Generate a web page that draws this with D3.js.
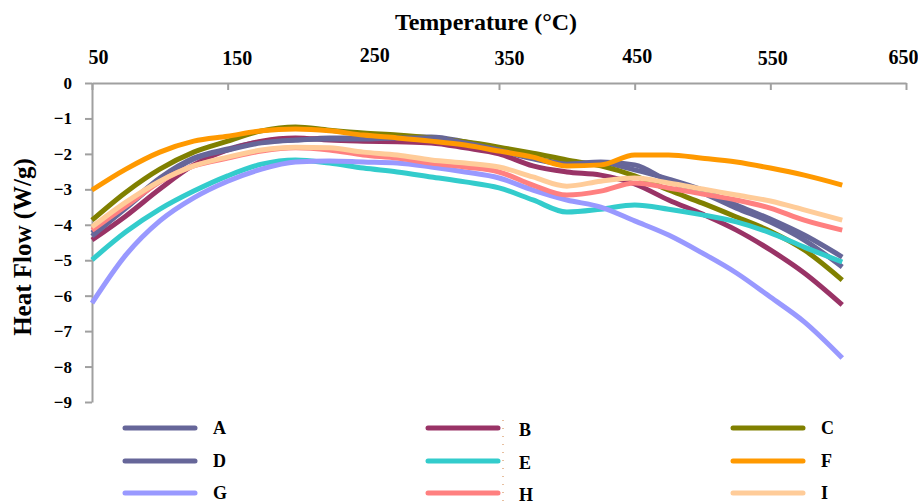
<!DOCTYPE html>
<html lang="en">
<head>
<meta charset="utf-8">
<style>
  body { margin: 0; background: #fff; }
  text { font-family: "Liberation Serif", "Times New Roman", serif; font-weight: bold; fill: #000; }
</style>
</head>
<body>
	<script src="https://d3js.org/d3.v7.min.js"></script>
	<script>
		width = 918;
		height = 504;

		// temperature grid (°C) that the curves were read at
		const temps = [50, 75, 100, 125, 150, 175, 200, 225, 250, 275, 300, 325, 350, 375, 400, 425, 450, 475, 500, 525, 550, 575, 603];

		const seriesA = [-4.23, -3.47, -2.68, -2.12, -1.86, -1.66, -1.61, -1.55, -1.55, -1.52, -1.52, -1.66, -1.86, -2.12, -2.26, -2.26, -2.45, -2.71, -3.02, -3.44, -3.84, -4.29, -4.91];
		const seriesB = [-4.43, -3.75, -2.99, -2.31, -1.89, -1.64, -1.55, -1.61, -1.64, -1.66, -1.69, -1.83, -2.00, -2.34, -2.51, -2.60, -2.85, -3.30, -3.70, -4.15, -4.71, -5.36, -6.26];
		const seriesC = [-3.87, -3.08, -2.43, -1.95, -1.64, -1.35, -1.24, -1.33, -1.41, -1.47, -1.55, -1.66, -1.81, -1.98, -2.17, -2.34, -2.62, -3.02, -3.39, -3.78, -4.18, -4.71, -5.56];
		const seriesD = [-4.32, -3.53, -2.74, -2.14, -1.89, -1.69, -1.61, -1.58, -1.58, -1.55, -1.55, -1.69, -1.89, -2.14, -2.29, -2.23, -2.31, -2.77, -3.10, -3.53, -3.92, -4.43, -5.19];
		const seriesE = [-4.99, -4.20, -3.56, -3.05, -2.62, -2.29, -2.17, -2.26, -2.40, -2.51, -2.65, -2.79, -2.96, -3.30, -3.64, -3.56, -3.44, -3.56, -3.72, -3.92, -4.23, -4.63, -5.05];
		const seriesF = [-3.02, -2.43, -1.95, -1.64, -1.50, -1.35, -1.30, -1.35, -1.47, -1.55, -1.64, -1.75, -1.92, -2.09, -2.34, -2.31, -2.03, -2.03, -2.12, -2.23, -2.40, -2.60, -2.88];
		const seriesG = [-6.21, -4.85, -3.89, -3.24, -2.77, -2.43, -2.23, -2.20, -2.23, -2.26, -2.37, -2.51, -2.68, -3.02, -3.30, -3.50, -3.89, -4.29, -4.80, -5.36, -6.04, -6.74, -7.76];
		const seriesH = [-4.15, -3.47, -2.79, -2.34, -2.12, -1.92, -1.83, -1.89, -2.03, -2.12, -2.26, -2.37, -2.51, -2.88, -3.16, -3.05, -2.82, -2.96, -3.13, -3.30, -3.53, -3.87, -4.15];
		const seriesI = [-4.06, -3.36, -2.77, -2.34, -2.09, -1.89, -1.81, -1.83, -1.95, -2.03, -2.17, -2.26, -2.37, -2.65, -2.91, -2.77, -2.68, -2.82, -2.99, -3.16, -3.33, -3.58, -3.87];

		const names = ["A", "B", "C", "D", "E", "F", "G", "H", "I"];
		const colors = ["#666699", "#993366", "#808000", "#666699", "#33cccc", "#ff9900", "#9999ff", "#ff8080", "#ffcc99"];
		const allSeries = [seriesA, seriesB, seriesC, seriesD, seriesE, seriesF, seriesG, seriesH, seriesI];

		const xTicks = [50, 150, 250, 350, 450, 550, 650];
		const yTicks = [0, -1, -2, -3, -4, -5, -6, -7, -8, -9];

		// small nudges of the top labels, as in the original picture
		const xLabelDx = [6, 9, 11, 10, 2, 2, -3];
		const xLabelDy = [0, 1, -2, 1, -1, 1, 0];

		const svg = d3.select("body")
		  .append("svg")
		  .attr("width", width)
		  .attr("height", height);

		const x = d3.scaleLinear().domain([50, 650]).range([92, 906]);
		const y = d3.scaleLinear().domain([-9, 0]).range([402, 83]);

		// top axis, ticks pointing down into the plot
		const xAxis = svg.append("g")
		  .attr("transform", "translate(0,83)")
		  .call(d3.axisTop(x).tickValues(xTicks).tickSizeInner(-7).tickSizeOuter(0).tickPadding(19).tickFormat(d3.format("d")));
		xAxis.selectAll("text")
		  .style("font-size", "20px")
		  .attr("dx", (d, i) => xLabelDx[i])
		  .attr("dy", (d, i) => xLabelDy[i]);
		xAxis.selectAll(".tick").filter(d => d === 250).select("line").remove();

		const yAxis = svg.append("g")
		  .attr("transform", "translate(92,0)")
		  .call(d3.axisLeft(y).tickValues(yTicks).tickSize(7).tickSizeOuter(0).tickPadding(13).tickFormat(d3.format("d")));
		yAxis.selectAll("text").style("font-size", "17px");

		svg.selectAll(".domain, .tick line")
		  .attr("stroke", "#a0a0a0")
		  .attr("stroke-width", 2);

		svg.append("text")
		  .attr("x", 486)
		  .attr("y", 30)
		  .attr("text-anchor", "middle")
		  .style("font-size", "24px")
		  .text("Temperature (°C)");

		svg.append("text")
		  .attr("transform", "translate(31,247) rotate(-90)")
		  .attr("text-anchor", "middle")
		  .style("font-size", "25px")
		  .text("Heat Flow (W/g)");

		const line = d3.line()
		  .x((d, i) => x(temps[i]))
		  .y(d => y(d))
		  .curve(d3.curveMonotoneX);

		svg.append("g")
		  .selectAll("path")
		  .data(allSeries)
		  .join("path")
		    .attr("d", line)
		    .attr("fill", "none")
		    .attr("stroke", (d, i) => colors[i])
		    .attr("stroke-width", 5)
		    .attr("stroke-linejoin", "round");

		// legend, three columns
		const colX = [125, 428, 733];
		const rowY = [428, 461, 493];

		const legend = svg.append("g")
		  .selectAll("g")
		  .data(names)
		  .join("g")
		    .attr("transform", (d, i) => `translate(${colX[i % 3]},${rowY[Math.floor(i / 3)]})`);

		legend.append("line")
		  .attr("x1", 0)
		  .attr("x2", 70)
		  .attr("stroke", (d, i) => colors[i])
		  .attr("stroke-width", 5)
		  .attr("stroke-linecap", "round");

		legend.append("text")
		  .attr("x", (d, i) => i % 3 === 1 ? 91 : 88)
		  .attr("y", (d, i) => i % 3 === 1 ? 8 : 6)
		  .style("font-size", "18px")
		  .text(d => d);

		// faint dotted mark right of the middle legend column
		svg.append("line")
		  .attr("x1", 503).attr("x2", 503)
		  .attr("y1", 420).attr("y2", 504)
		  .attr("stroke", "#d08040")
		  .attr("stroke-width", 1)
		  .attr("stroke-dasharray", "1,7");
	</script>
</body>
</html>
